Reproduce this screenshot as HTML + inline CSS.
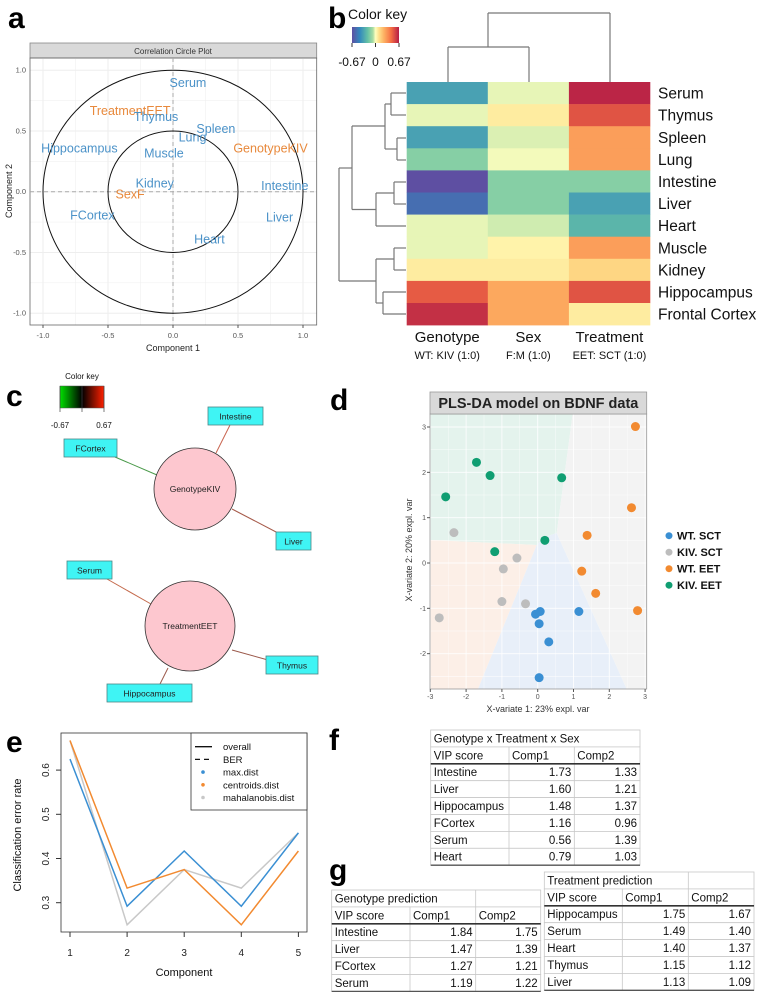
<!DOCTYPE html>
<html><head><meta charset="utf-8"><style>
body{margin:0;background:#fff;}
svg{display:block;font-family:"Liberation Sans",sans-serif;}
</style></head><body>
<svg id="fig" width="761" height="992" viewBox="0 0 761 992" xmlns="http://www.w3.org/2000/svg">
<g id="static">
  <text x="8" y="28" font-size="30" font-weight="bold">a</text>
  <text x="328" y="28" font-size="30" font-weight="bold">b</text>
  <text x="6" y="406" font-size="30" font-weight="bold">c</text>
  <text x="330" y="410" font-size="30" font-weight="bold">d</text>
  <text x="6" y="752" font-size="30" font-weight="bold">e</text>
  <text x="329" y="750" font-size="30" font-weight="bold">f</text>
  <text x="329" y="880" font-size="30" font-weight="bold">g</text>
</g>
<g id="pa"></g>
<g id="pb"></g>
<g id="pc"></g>
<g id="pd"></g>
<g id="pe"></g>
<g id="pf"></g>
</svg>
<script>
// ---------- data ----------
const aLabels = ["Serum","TreatmentEET","Thymus","Spleen","Lung","Hippocampus","Muscle","GenotypeKIV","Kidney","SexF","Intestine","FCortex","Liver","Heart"];
const aX = [0.115,-0.33,-0.13,0.33,0.15,-0.72,-0.07,0.75,-0.14,-0.33,0.86,-0.62,0.82,0.28];
const aY = [0.90,0.67,0.62,0.52,0.45,0.36,0.32,0.36,0.07,-0.02,0.05,-0.19,-0.21,-0.39];
const aIsVar = [0,1,0,0,0,0,0,1,0,1,0,0,0,0];
const aTicks = [-1.0,-0.5,0.0,0.5,1.0];

const hmRows = ["Serum","Thymus","Spleen","Lung","Intestine","Liver","Heart","Muscle","Kidney","Hippocampus","Frontal Cortex"];
const hmCols = ["Genotype","Sex","Treatment"];
const hmSub = ["WT: KIV (1:0)","F:M (1:0)","EET: SCT (1:0)"];
const hmGenotype = [-0.35,-0.02,-0.35,-0.15,-0.67,-0.55,-0.02,-0.02,0.06,0.5,0.62];
const hmSex = [-0.02,0.06,-0.03,-0.01,-0.15,-0.15,-0.04,0.04,0.06,0.27,0.27];
const hmTreatment = [0.65,0.52,0.3,0.3,-0.15,-0.35,-0.27,0.3,0.13,0.52,0.06];

const dWTSCT_x=[-0.06,0.07,0.04,0.31,1.15,0.04], dWTSCT_y=[-1.13,-1.07,-1.34,-1.74,-1.07,-2.53];
const dKIVSCT_x=[-2.34,-0.58,-0.96,-1.00,-0.34,-2.75], dKIVSCT_y=[0.67,0.11,-0.13,-0.85,-0.90,-1.21];
const dWTEET_x=[2.73,2.62,1.38,1.23,1.62,2.79], dWTEET_y=[3.01,1.22,0.61,-0.18,-0.67,-1.05];
const dKIVEET_x=[-2.57,-1.71,-1.33,0.67,0.20,-1.20], dKIVEET_y=[1.46,2.22,1.93,1.88,0.50,0.25];
const dTicks=[-3,-2,-1,0,1,2,3];

const eComp=[1,2,3,4,5];
const eMax=[0.625,0.292,0.417,0.292,0.458];
const eCent=[0.667,0.333,0.375,0.25,0.417];
const eMaha=[0.667,0.25,0.375,0.333,0.458];
const eYTicks=[0.3,0.4,0.5,0.6];

const NS="http://www.w3.org/2000/svg";
function mk(parent,tag,attrs,txt){const e=document.createElementNS(NS,tag);for(const k in attrs)e.setAttribute(k,attrs[k]);if(txt!==undefined)e.textContent=txt;parent.appendChild(e);return e;}

// ---------- panel a ----------
(function(){
const g=document.getElementById('pa');
const ax=v=>173+v*130, ay=v=>191.7-v*121.5;
let r=mk(g,'rect',{x:30,y:43,width:286.7,height:15,fill:'#d9d9d9',stroke:'#888','stroke-width':0.8});
 
let t=mk(g,'text',{x:173,y:54,'font-size':8,'text-anchor':'middle',fill:'#333'},'Correlation Circle Plot');
 
for(let v=-1;v<=1.001;v+=0.25){
  const minor=Math.abs((v*2)%1)>0.01;
  let l=mk(g,'line',{x1:ax(v),x2:ax(v),y1:58,y2:325,stroke:'#eee','stroke-width':minor?0.5:1});
   
  let l2=mk(g,'line',{x1:30,x2:316.7,y1:ay(v),y2:ay(v),stroke:'#eee','stroke-width':minor?0.5:1});
   
}
let b=mk(g,'rect',{x:30,y:58,width:286.7,height:267,fill:'none',stroke:'#666','stroke-width':0.8});
 
let d1=mk(g,'line',{x1:ax(0),x2:ax(0),y1:58,y2:325,stroke:'#aaa','stroke-dasharray':'4,3'});
 
let d2=mk(g,'line',{x1:30,x2:316.7,y1:ay(0),y2:ay(0),stroke:'#aaa','stroke-dasharray':'4,3'});
 
[1,0.5].forEach(rr=>{let c=mk(g,'ellipse',{cx:ax(0),cy:ay(0),rx:130*rr,ry:121.5*rr,fill:'none',stroke:'#111','stroke-width':1});
 });
aTicks.forEach(v=>{
  let tx=mk(g,'text',{x:ax(v),y:338,'font-size':7.5,'text-anchor':'middle',fill:'#555'},v.toFixed(1));
   
  let tk=mk(g,'line',{x1:ax(v),x2:ax(v),y1:325,y2:328,stroke:'#555'});
   
  let ty=mk(g,'text',{x:26,y:ay(v)+2.5,'font-size':7.5,'text-anchor':'end',fill:'#555'},v.toFixed(1));
   
});
let xt=mk(g,'text',{x:173,y:351,'font-size':9,'text-anchor':'middle',fill:'#222'},'Component  1');
 
let yt=mk(g,'text',{x:0,y:0,'font-size':9,'text-anchor':'middle',fill:'#222',transform:'translate(12,191) rotate(-90)'},'Component  2');
 
aLabels.forEach((s,i)=>{
  let p=mk(g,'text',{x:ax(aX[i]),y:ay(aY[i])+4.5,'font-size':12.5,'text-anchor':'middle',fill:aIsVar[i]?'#e8893c':'#4b92c8'},s);
   
});
})();

// ---------- panel b ----------
(function(){
const g=document.getElementById('pb');
const stops=[[-0.67,[94,79,162]],[-0.45,[50,136,189]],[-0.22,[102,194,165]],[-0.07,[171,221,164]],[0,[255,255,191]],[0.1,[254,224,139]],[0.25,[253,174,97]],[0.45,[244,109,67]],[0.67,[181,30,70]]];
function col(v){v=Math.max(-0.67,Math.min(0.67,v));for(let i=0;i<stops.length-1;i++){const [a,ca]=stops[i],[b,cb]=stops[i+1];if(v<=b){const t=(v-a)/(b-a);return 'rgb('+ca.map((c,k)=>Math.round(c+(cb[k]-c)*t)).join(',')+')';}}return 'rgb(181,30,70)';}
const x0=406.7,cw=81.1,y0=82,rh=22.1;
const vals=[hmGenotype,hmSex,hmTreatment];
hmRows.forEach((rn,i)=>{
  vals.forEach((arr,j)=>{
    let c=mk(g,'rect',{x:x0+j*cw,y:y0+i*rh,width:cw+0.3,height:rh+0.3,fill:col(arr[i])});
     
  });
  let t=mk(g,'text',{x:658,y:y0+i*rh+rh/2+5.5,'font-size':15.5,fill:'#111'},rn);
   
});
hmCols.forEach((cn,j)=>{
  let t=mk(g,'text',{x:x0+j*cw+cw/2,y:342,'font-size':15,'text-anchor':'middle',fill:'#111'},cn);
   
  let s=mk(g,'text',{x:x0+j*cw+cw/2,y:359,'font-size':11,'text-anchor':'middle',fill:'#111'},hmSub[j]);
   
});
const defs=mk(g,'defs',{});
const lg=mk(defs,'linearGradient',{id:'spec',x1:0,x2:1,y1:0,y2:0});
stops.forEach(s=>mk(lg,'stop',{offset:((s[0]+0.67)/1.34),'stop-color':'rgb('+s[1].join(',')+')'}));
let kt=mk(g,'text',{x:348,y:19,'font-size':14,fill:'#111'},'Color key');
 
let kb=mk(g,'rect',{x:352,y:27,width:47,height:16,fill:'url(#spec)'});
 
[['-0.67',352],['0',375.5],['0.67',399]].forEach(([s,x])=>{
  let tk=mk(g,'line',{x1:x,x2:x,y1:43,y2:47,stroke:'#333'});
   
  let tl=mk(g,'text',{x:x,y:66,'font-size':12,'text-anchor':'middle',fill:'#111'},s);
   
});
const segs=[
 [448,82,448,47],[448,47,529,47],[529,47,529,82],[488,47,488,13],[488,13,610,13],[610,13,610,82],
 [406,93,391,93],[406,115,391,115],[391,93,391,115],
 [406,138,397,138],[406,160,397,160],[397,138,397,160],
 [391,104,385,104],[397,149,385,149],[385,104,385,149],
 [406,182,394,182],[406,204,394,204],[394,182,394,204],
 [406,226,376,226],[394,193,376,193],[376,193,376,226],
 [406,248,394,248],[406,270,394,270],[394,248,394,270],
 [406,292,383,292],[406,314,383,314],[383,292,383,314],
 [394,259,376,259],[383,303,376,303],[376,259,376,303],
 [385,126,352,126],[376,209.5,352,209.5],[352,126,352,209.5],
 [352,168,339,168],[376,281,339,281],[339,168,339,281]];
segs.forEach(s=>{let l=mk(g,'line',{x1:s[0],y1:s[1],x2:s[2],y2:s[3],stroke:'#777','stroke-width':1.2});
 });
})();

// ---------- panel c ----------
(function(){
const g=document.getElementById('pc');
const defs=mk(g,'defs',{});
const lg=mk(defs,'linearGradient',{id:'gr',x1:0,x2:1,y1:0,y2:0});
mk(lg,'stop',{offset:0,'stop-color':'#00e000'});mk(lg,'stop',{offset:0.5,'stop-color':'#000'});mk(lg,'stop',{offset:1,'stop-color':'#ff2000'});
let kt=mk(g,'text',{x:82,y:379,'font-size':8,'text-anchor':'middle',fill:'#111'},'Color key');
 
let kb=mk(g,'rect',{x:60,y:386,width:44,height:22,fill:'url(#gr)',stroke:'#555','stroke-width':0.5});
 
[60,82,104].forEach(x=>{let l=mk(g,'line',{x1:x,x2:x,y1:386,y2:412,stroke:'#444','stroke-width':0.7});
 });
[['-0.67',60],['0.67',104]].forEach(([s,x])=>{let t=mk(g,'text',{x:x,y:428,'font-size':8,'text-anchor':'middle',fill:'#111'},s);
 });
const edges=[[230,425,216,453,'#c8634d'],[115,457,157,475,'#4a9a4a'],[232,509,278,533,'#a65a4a'],[107,579,151,604,'#c46a4c'],[232,650,268,660,'#9a584a'],[160,684,168,668,'#9a584a']];
edges.forEach(e=>{let l=mk(g,'line',{x1:e[0],y1:e[1],x2:e[2],y2:e[3],stroke:e[4],'stroke-width':1});
 });
[[195,489,41,'GenotypeKIV'],[190,626,45,'TreatmentEET']].forEach(n=>{
  let c=mk(g,'circle',{cx:n[0],cy:n[1],r:n[2],fill:'#fdc7cf',stroke:'#333','stroke-width':0.8});
   
  let t=mk(g,'text',{x:n[0],y:n[1]+3,'font-size':8.5,'text-anchor':'middle',fill:'#222'},n[3]);
   
});
[[208,407,55,'Intestine'],[64,439,53,'FCortex'],[276,532,35,'Liver'],[67,561,45,'Serum'],[266,656,52,'Thymus'],[107,684,85,'Hippocampus']].forEach(b=>{
  let r=mk(g,'rect',{x:b[0],y:b[1],width:b[2],height:18,fill:'#3ff4f4',stroke:'#4d8585','stroke-width':0.8});
   
  let t=mk(g,'text',{x:b[0]+b[2]/2,y:b[1]+12.5,'font-size':8.5,'text-anchor':'middle',fill:'#222'},b[3]);
   
});
})();

// ---------- panel d ----------
(function(){
const g=document.getElementById('pd');
const X=v=>537.7+v*35.8, Y=v=>563-v*45.33;
const L=430,R=646.7,T=414,B=689;
const regions=[
 [[L,T],[572.7,T],[556.7,533],[545,537],[536.7,545],[L,540]],'#e4f3ed','region-kiv-eet',
 [[L,540],[536.7,545],[478,B],[L,B]],'#fcefe7','region-kiv-sct',
 [[536.7,545],[545,537],[556.7,533],[626.7,B],[478,B]],'#e8eff9','region-wt-sct',
 [[572.7,T],[R,T],[R,B],[626.7,B],[556.7,533]],'#f3f3f3','region-wt-eet'];
for(let i=0;i<regions.length;i+=3){
  let p=mk(g,'polygon',{points:regions[i].map(q=>q.join(',')).join(' '),fill:regions[i+1]});
   
}
for(let v=-3;v<=3;v+=0.5){
  const minor=v%1!==0;
  let lx=mk(g,'line',{x1:X(v),x2:X(v),y1:T,y2:B,stroke:'#fff','stroke-width':minor?0.4:0.9,opacity:0.9});
   
  if(Y(v)>T&&Y(v)<B){let ly=mk(g,'line',{x1:L,x2:R,y1:Y(v),y2:Y(v),stroke:'#fff','stroke-width':minor?0.4:0.9,opacity:0.9});
   }
}
[3.5,-2.5].forEach(v=>{if(Y(v)>T&&Y(v)<B){let ly=mk(g,'line',{x1:L,x2:R,y1:Y(v),y2:Y(v),stroke:'#fff','stroke-width':0.4});}});
let bd=mk(g,'rect',{x:L,y:T,width:R-L,height:B-T,fill:'none',stroke:'#999','stroke-width':0.8});
 
let st=mk(g,'rect',{x:L,y:392,width:R-L,height:22,fill:'#d9d9d9',stroke:'#999','stroke-width':0.8});
 
let tt=mk(g,'text',{x:(L+R)/2,y:408,'font-size':14.5,'font-weight':'bold','text-anchor':'middle',fill:'#222'},'PLS-DA model on BDNF data');
 
dTicks.forEach(v=>{
  let tk=mk(g,'line',{x1:X(v),x2:X(v),y1:B,y2:B+3,stroke:'#555'});
   
  let tl=mk(g,'text',{x:X(v),y:B+10,'font-size':7,'text-anchor':'middle',fill:'#555'},String(v));
   
  if(Y(v)>T&&Y(v)<B){
    let yl=mk(g,'text',{x:426,y:Y(v)+2.5,'font-size':7,'text-anchor':'end',fill:'#555'},String(v));
     
    let yk=mk(g,'line',{x1:L-3,x2:L,y1:Y(v),y2:Y(v),stroke:'#555'});
     
  }
});
let xa=mk(g,'text',{x:538,y:712,'font-size':9,'text-anchor':'middle',fill:'#333'},'X-variate 1: 23% expl. var');
 
let ya=mk(g,'text',{x:0,y:0,'font-size':9,'text-anchor':'middle',fill:'#333',transform:'translate(412,550) rotate(-90)'},'X-variate 2: 20% expl. var');
 
const groups=[[dWTSCT_x,dWTSCT_y,'#3a8fd3','WT. SCT'],[dKIVSCT_x,dKIVSCT_y,'#bdbdbd','KIV. SCT'],[dWTEET_x,dWTEET_y,'#f28a30','WT. EET'],[dKIVEET_x,dKIVEET_y,'#109e72','KIV. EET']];
groups.forEach((gr,k)=>{
  gr[0].forEach((xv,i)=>{let c=mk(g,'circle',{cx:X(xv),cy:Y(gr[1][i]),r:4.5,fill:gr[2]});
   });
  let ld=mk(g,'circle',{cx:669,cy:535.7+k*16.5,r:3.5,fill:gr[2]});
   
  let lt=mk(g,'text',{x:677,y:535.7+k*16.5+4,'font-size':11,'font-weight':'bold',fill:'#111'},gr[3]);
   
});
})();

// ---------- panel e ----------
(function(){
const g=document.getElementById('pe');
const X=v=>70+(v-1)*57.1, Y=v=>902.7-(v-0.3)*442;
let bd=mk(g,'rect',{x:61,y:733,width:246,height:199,fill:'none',stroke:'#333','stroke-width':0.8});
 
[[eMaha,'#c8c8c8','line-mahalanobis'],[eMax,'#3a8fd3','line-max-dist'],[eCent,'#f28a30','line-centroids']].forEach(s=>{
  let p=mk(g,'polyline',{points:eComp.map((c,i)=>X(c)+','+Y(s[0][i])).join(' '),fill:'none',stroke:s[1],'stroke-width':1.5});
   
});
eComp.forEach(c=>{
  let tk=mk(g,'line',{x1:X(c),x2:X(c),y1:932,y2:937,stroke:'#333'});
   
  let tl=mk(g,'text',{x:X(c),y:956,'font-size':10,'text-anchor':'middle',fill:'#222'},String(c));
   
});
eYTicks.forEach(v=>{
  let tk=mk(g,'line',{x1:56,x2:61,y1:Y(v),y2:Y(v),stroke:'#333'});
   
  let tl=mk(g,'text',{x:0,y:0,'font-size':10,'text-anchor':'middle',fill:'#222',transform:'translate(49,'+Y(v)+') rotate(-90)'},v.toFixed(1));
   
});
let xa=mk(g,'text',{x:184,y:976,'font-size':11,'text-anchor':'middle',fill:'#111'},'Component');
 
let ya=mk(g,'text',{x:0,y:0,'font-size':11,'text-anchor':'middle',fill:'#111',transform:'translate(21,835) rotate(-90)'},'Classification error rate');
 
let lb=mk(g,'rect',{x:191,y:733,width:116,height:77,fill:'#fff',stroke:'#333','stroke-width':0.8});
 
const ent=[['overall','solid','#111'],['BER','dash','#111'],['max.dist','dot','#3a8fd3'],['centroids.dist','dot','#f28a30'],['mahalanobis.dist','dot','#c8c8c8']];
ent.forEach((e,i)=>{
  const y=746.7+i*12.7;
  let m;
  if(e[1]==='dot') m=mk(g,'circle',{cx:203,cy:y,r:1.8,fill:e[2]});
  else m=mk(g,'line',{x1:195,x2:212,y1:y,y2:y,stroke:e[2],'stroke-width':1.3,'stroke-dasharray':e[1]==='dash'?'5,4':'none'});
   
  let t=mk(g,'text',{x:223,y:y+3.5,'font-size':9.5,fill:'#111'},e[0]);
   
});
})();

// ---------- tables ----------
(function(){
const g=document.getElementById('pf');
function table(name,x0,y0,cols,rows,rh,spanFirstRow,thickAfter){
  const tg=mk(g,'g',{});
   
  const W=cols[cols.length-1]-cols[0];
  rows.forEach((r,i)=>{
    const y=y0+i*rh;
    let bg=mk(tg,'rect',{x:cols[0],y:y,width:W,height:rh,fill:'#fff',stroke:'#c8c8c8','stroke-width':0.8});
     
    if(i===0){
      if(spanFirstRow===2){let l=mk(tg,'line',{x1:cols[2],x2:cols[2],y1:y,y2:y+rh,stroke:'#c8c8c8','stroke-width':0.8});}
      let t=mk(tg,'text',{x:cols[0]+3,y:y+rh-4.5,'font-size':11.5,fill:'#111'},r[0]);
       
      return;
    }
    for(let c=1;c<cols.length-1;c++){let l=mk(tg,'line',{x1:cols[c],x2:cols[c],y1:y,y2:y+rh,stroke:'#c8c8c8','stroke-width':0.8});}
    r.forEach((s,c)=>{
      const num=i>1&&c>0;
      let t=mk(tg,'text',{x:num?cols[c+1]-3:cols[c]+3,y:y+rh-4.5,'font-size':11.5,'text-anchor':num?'end':'start',fill:'#111'},s);
       
    });
  });
  let tl=mk(tg,'line',{x1:cols[0],x2:cols[cols.length-1],y1:y0+thickAfter*rh,y2:y0+thickAfter*rh,stroke:'#333','stroke-width':1.6});
   
  let bl=mk(tg,'line',{x1:cols[0],x2:cols[cols.length-1],y1:y0+rows.length*rh,y2:y0+rows.length*rh,stroke:'#555','stroke-width':1.4});
   
}
table('vip-table-all',430.7,730,[430.7,509,574.3,640],[
 ['Genotype x Treatment x Sex'],['VIP score','Comp1','Comp2'],
 ['Intestine','1.73','1.33'],['Liver','1.60','1.21'],['Hippocampus','1.48','1.37'],['FCortex','1.16','0.96'],['Serum','0.56','1.39'],['Heart','0.79','1.03']],16.9,0,2);
table('vip-table-genotype',331.7,890,[331.7,410,475.7,540.7],[
 ['Genotype prediction'],['VIP score','Comp1','Comp2'],
 ['Intestine','1.84','1.75'],['Liver','1.47','1.39'],['FCortex','1.27','1.21'],['Serum','1.19','1.22']],16.9,2,2);
table('vip-table-treatment',544.3,872,[544.3,622.3,688.3,754],[
 ['Treatment prediction'],['VIP score','Comp1','Comp2'],
 ['Hippocampus','1.75','1.67'],['Serum','1.49','1.40'],['Heart','1.40','1.37'],['Thymus','1.15','1.12'],['Liver','1.13','1.09']],16.9,2,2);
})();
</script>
</body></html>
